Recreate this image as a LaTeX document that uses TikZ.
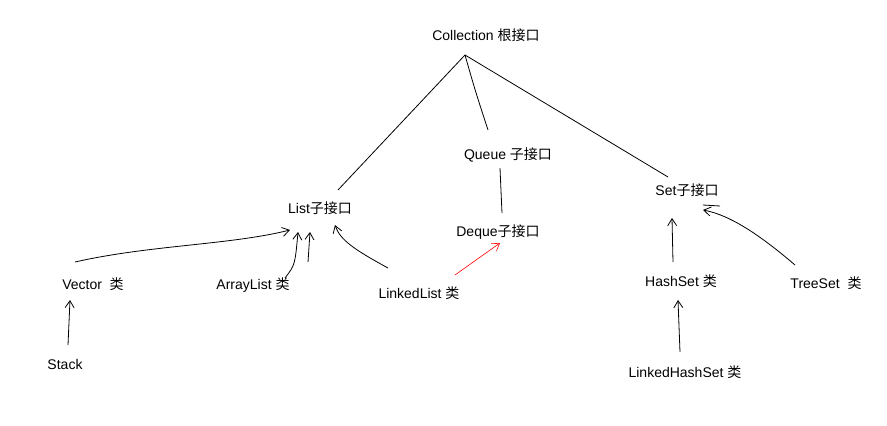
\documentclass[tikz,border=0pt]{standalone}
\usepackage{fontspec}
\setmainfont{Liberation Sans}
\newfontfamily\cjk{Noto Sans CJK SC}
\usetikzlibrary{arrows.meta}
\begin{document}
\begin{tikzpicture}[x=1pt,y=-1pt,
  lbl/.style={font=\fontsize{14}{16}\selectfont, inner sep=1pt},
  ln/.style={line width=0.8pt},
  ar/.style={line width=0.8pt,-{Straight Barb[length=7pt,width=9pt]}}]
\useasboundingbox[fill=white] (0,0) rectangle (887,426);
\node[lbl] (col) at (486,35) {Collection {\cjk 根接口}};
\node[lbl] (que) at (508,155) {Queue {\cjk 子接口}};
\node[lbl] (lst) at (320,208) {List{\cjk 子接口}};
\node[lbl] (set) at (687,190) {Set{\cjk 子接口}};
\node[lbl] (deq) at (498,232) {Deque{\cjk 子接口}};
\node[lbl] (vec) at (93,284) {Vector \ {\cjk 类}};
\node[lbl] (arr) at (253,285) {ArrayList {\cjk 类}};
\node[lbl] (lnk) at (419,293) {LinkedList {\cjk 类}};
\node[lbl] (hs) at (681,281) {HashSet {\cjk 类}};
\node[lbl] (ts) at (826,283) {TreeSet \ {\cjk 类}};
\node[lbl] (stk) at (65,364) {Stack};
\node[lbl] (lhs) at (685,372) {LinkedHashSet {\cjk 类}};
\coordinate (c0) at (465,55);
\draw[ln] (c0) -- (338,190);
\draw[ln] (c0) .. controls (475,90) .. (488,130);
\draw[ln] (c0) -- (668,177);
\draw[ln] (500,168) -- (502,213);
\draw[ar] (75,262) .. controls (150,245) and (230,245) .. (290,230);
\draw[ar] (285,278) .. controls (295,265) .. (298,232);
\draw[ar] (308,262) -- (310,232);
\draw[ar] (388,268) .. controls (355,250) and (340,240) .. (335,225);
\draw[ar,red,line width=0.6pt] (455,275) -- (500,243);
\draw[ar] (68,345) -- (70,300);
\draw[ar] (673,262) -- (672,218);
\draw[ar] (795,265) .. controls (760,235) and (730,215) .. (703,210);
\draw[ln] (703,205) -- (720,206);
\draw[ar] (680,352) -- (678,300);
\end{tikzpicture}
\end{document}
